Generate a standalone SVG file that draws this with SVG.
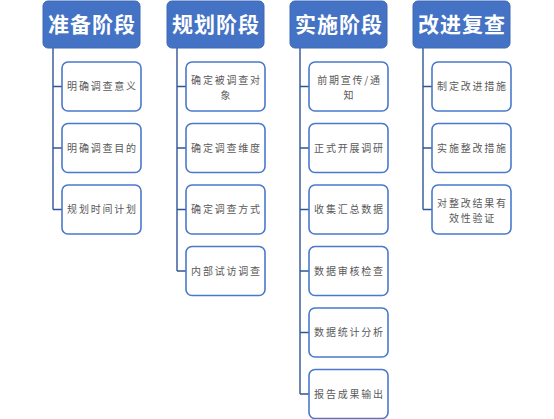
<svg xmlns="http://www.w3.org/2000/svg" width="554" height="419" viewBox="0 0 554 419">
<style>
.hd{fill:#4472C4;stroke:#3F68B4;stroke-width:1}
.hdt{font-family:"Noto Sans CJK SC","Noto Sans",sans-serif;font-size:21px;font-weight:bold;fill:#FFFFFF;text-anchor:middle;letter-spacing:1px}
.ch{fill:#FFFFFF;stroke:#4A78CC;stroke-width:1.6}
.cht{font-family:"Noto Sans CJK SC","Noto Sans",sans-serif;font-size:10px;fill:#595959;text-anchor:middle;letter-spacing:1.8px}
.cn{fill:none;stroke:#2F5597;stroke-width:1.4}
</style>
<rect width="554" height="419" fill="#FFFFFF"/>
<g id="connectors">
<path class="cn" d="M53,48 V209.5 M53,86.5 H62 M53,148 H62 M53,209.5 H62"/>
<path class="cn" d="M177,48 V271 M177,86.5 H186 M177,148 H186 M177,209.5 H186 M177,271 H186"/>
<path class="cn" d="M300,48 V394 M300,86.5 H309 M300,148 H309 M300,209.5 H309 M300,271 H309 M300,332.5 H309 M300,394 H309"/>
<path class="cn" d="M423,48 V209.5 M423,86.5 H432 M423,148 H432 M423,209.5 H432"/>
</g>
<g id="h1"><rect class="hd" x="43" y="1" width="97" height="47" rx="5"/><text class="hdt" x="92" y="32">准备阶段</text></g>
<g id="h2"><rect class="hd" x="167" y="1" width="97" height="47" rx="5"/><text class="hdt" x="216" y="32">规划阶段</text></g>
<g id="h3"><rect class="hd" x="290" y="1" width="97" height="47" rx="5"/><text class="hdt" x="339" y="32">实施阶段</text></g>
<g id="h4"><rect class="hd" x="413" y="1" width="97" height="47" rx="5"/><text class="hdt" x="462" y="32">改进复查</text></g>

<g id="c1a"><rect class="ch" x="62" y="62" width="79" height="49" rx="6"/><text class="cht" x="102.5" y="90">明确调查意义</text></g>
<g id="c1b"><rect class="ch" x="62" y="123.5" width="79" height="49" rx="6"/><text class="cht" x="102.5" y="151.5">明确调查目的</text></g>
<g id="c1c"><rect class="ch" x="62" y="185" width="79" height="49" rx="6"/><text class="cht" x="102.5" y="213">规划时间计划</text></g>

<g id="c2a"><rect class="ch" x="186" y="62" width="79" height="49" rx="6"/><text class="cht" x="226.5" y="83.5">确定被调查对</text><text class="cht" x="226.5" y="98.5">象</text></g>
<g id="c2b"><rect class="ch" x="186" y="123.5" width="79" height="49" rx="6"/><text class="cht" x="226.5" y="151.5">确定调查维度</text></g>
<g id="c2c"><rect class="ch" x="186" y="185" width="79" height="49" rx="6"/><text class="cht" x="226.5" y="213">确定调查方式</text></g>
<g id="c2d"><rect class="ch" x="186" y="246.5" width="79" height="49" rx="6"/><text class="cht" x="226.5" y="274.5">内部试访调查</text></g>

<g id="c3a"><rect class="ch" x="309" y="62" width="79" height="49" rx="6"/><text class="cht" x="349.5" y="83.5">前期宣传/通</text><text class="cht" x="349.5" y="98.5">知</text></g>
<g id="c3b"><rect class="ch" x="309" y="123.5" width="79" height="49" rx="6"/><text class="cht" x="349.5" y="151.5">正式开展调研</text></g>
<g id="c3c"><rect class="ch" x="309" y="185" width="79" height="49" rx="6"/><text class="cht" x="349.5" y="213">收集汇总数据</text></g>
<g id="c3d"><rect class="ch" x="309" y="246.5" width="79" height="49" rx="6"/><text class="cht" x="349.5" y="274.5">数据审核检查</text></g>
<g id="c3e"><rect class="ch" x="309" y="308" width="79" height="49" rx="6"/><text class="cht" x="349.5" y="336">数据统计分析</text></g>
<g id="c3f"><rect class="ch" x="309" y="369.5" width="79" height="49" rx="6"/><text class="cht" x="349.5" y="397.5">报告成果输出</text></g>

<g id="c4a"><rect class="ch" x="432" y="62" width="79" height="49" rx="6"/><text class="cht" x="472.5" y="90">制定改进措施</text></g>
<g id="c4b"><rect class="ch" x="432" y="123.5" width="79" height="49" rx="6"/><text class="cht" x="472.5" y="151.5">实施整改措施</text></g>
<g id="c4c"><rect class="ch" x="432" y="185" width="79" height="49" rx="6"/><text class="cht" x="472.5" y="206.5">对整改结果有</text><text class="cht" x="472.5" y="221.5">效性验证</text></g>
</svg>
